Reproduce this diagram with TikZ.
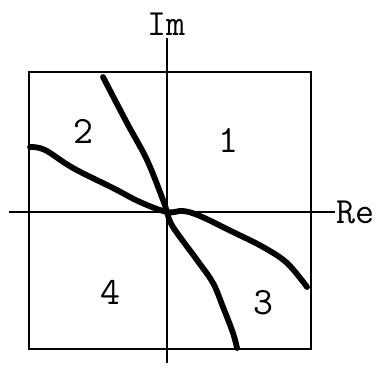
\documentclass[tikz,border=0pt]{standalone}
\usepackage{tikz}
\usetikzlibrary{positioning}

\begin{document}
\begin{tikzpicture}[
    font=\ttfamily\fontsize{21}{24}\selectfont,
    frame/.style={line width=1.1pt},
    axis/.style={line width=0.9pt},
    branch/.style={line width=3.3pt, line cap=round, line join=round},
    region/.style={font=\ttfamily\fontsize{22}{26}\selectfont, inner sep=0pt}
]
\useasboundingbox (-33.4mm,-31.2mm) rectangle (42.8mm,42.4mm);
\draw[frame] (-27.6mm,-27.4mm) rectangle (28.8mm,28mm);
\draw[axis] (-31.6mm,0) -- (33.6mm,0)
    node[right, inner sep=0.2mm] (re) {Re};
\draw[axis] (0,-30.2mm) -- (0,34.8mm)
    node[above, inner sep=0.3mm] (im) {Im};
% steep branch
\draw[branch] plot[smooth, tension=0.6] coordinates {
    (-12.8mm,27mm) (-8mm,17.8mm) (-4mm,10.4mm) (-0.8mm,2.4mm) (0,0)
    (1.2mm,-3mm) (6mm,-9.6mm) (9.2mm,-14.2mm) (11.2mm,-19mm)
    (13.2mm,-24.2mm) (14mm,-27.2mm)};
% shallow branch
\draw[branch] plot[smooth, tension=0.6] coordinates {
    (-27.4mm,13mm) (-24.4mm,12.4mm) (-18.8mm,8.8mm) (-10.8mm,4.8mm)
    (-5.4mm,2mm) (0,0) (3.2mm,0.2mm) (6.6mm,-0.8mm) (13.2mm,-4mm)
    (19.2mm,-7mm) (24mm,-10.2mm) (28mm,-15mm)};
\node[region] (r1) at (12.2mm,14.4mm) {1};
\node[region] (r2) at (-16.8mm,16.2mm) {2};
\node[region] (r3) at (19.2mm,-18.2mm) {3};
\node[region] (r4) at (-11.4mm,-16mm) {4};
\end{tikzpicture}
\end{document}
